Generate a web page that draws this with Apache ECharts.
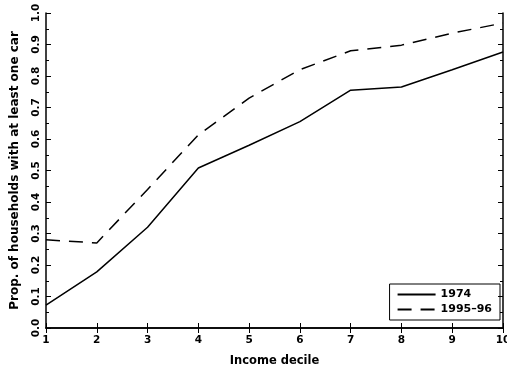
<!DOCTYPE html>
<html><head><meta charset="utf-8">
<script src="https://cdn.jsdelivr.net/npm/echarts@6/dist/echarts.min.js"></script>
<style>html,body{margin:0;padding:0;background:#fff}#c{width:507px;height:369px}</style>
</head><body><div id="c"></div>
<script>
var deciles = [1,2,3,4,5,6,7,8,9,10];
var y1974 = [0.073,0.178,0.32,0.508,0.58,0.655,0.755,0.765,0.82,0.876];
var y1995 = [0.28,0.27,0.44,0.613,0.73,0.82,0.88,0.898,0.936,0.968];
var seriesNames = ['1974','1995\u201396'];
var yTickLabels = ['0.0','0.1','0.2','0.3','0.4','0.5','0.6','0.7','0.8','0.9','1.0'];

function pairs(ys){ return deciles.map(function(d,i){ return [d, ys[i]]; }); }
var font = {fontFamily:'DejaVu Sans, sans-serif', fontWeight:'bold', fontSize:10.5, color:'#000'};
var chart = echarts.init(document.getElementById('c'));
chart.setOption({
  animation:false,
  backgroundColor:'#fff',
  grid:{left:46,right:4,top:13,bottom:41,containLabel:false,outerBoundsMode:'none'},
  legend:{
    orient:'vertical', right:7, bottom:49,
    borderColor:'#000', borderWidth:1, borderRadius:0,
    padding:[5,8,5,7], itemGap:4, itemWidth:38, itemHeight:10,
    itemStyle:{opacity:0},
    textStyle:Object.assign({}, font, {fontSize:11}),
    data:seriesNames
  },
  xAxis:[{
    type:'value', min:1, max:10, interval:1, position:'bottom',
    name:'Income decile', nameLocation:'middle', nameGap:27,
    nameTextStyle:Object.assign({}, font, {fontSize:11.5}),
    axisLine:{lineStyle:{color:'#000',width:1.5}},
    axisTick:{inside:true,length:5,lineStyle:{color:'#000'}},
    axisLabel:Object.assign({margin:7}, font),
    splitLine:{show:false}
  },{
    type:'value', min:1, max:10, interval:1, position:'top',
    axisLine:{show:true,lineStyle:{color:'#000',width:1.5}},
    axisTick:{inside:true,length:5,lineStyle:{color:'#000'}},
    axisLabel:{show:false}, splitLine:{show:false}
  }],
  yAxis:[{
    type:'value', min:0, max:1, interval:0.1, position:'left',
    name:'Prop. of households with at least one car', nameLocation:'middle', nameGap:25,
    nameTextStyle:Object.assign({}, font, {fontSize:12}),
    axisLine:{show:true,lineStyle:{color:'#000',width:1.5}},
    axisTick:{inside:true,length:5,lineStyle:{color:'#000'}},
    minorTick:{show:true,splitNumber:2,length:3,lineStyle:{color:'#000'}},
    axisLabel:Object.assign({margin:4, rotate:90, formatter:function(v){ return yTickLabels[Math.round(v*10)]; }}, font),
    splitLine:{show:false}
  },{
    type:'value', min:0, max:1, interval:0.1, position:'right',
    axisLine:{show:true,lineStyle:{color:'#000',width:1.5}},
    axisTick:{inside:true,length:5,lineStyle:{color:'#000'}},
    minorTick:{show:true,splitNumber:2,length:3,lineStyle:{color:'#000'}},
    axisLabel:{show:false}, splitLine:{show:false}
  }],
  series:[{
    name:seriesNames[0], type:'line', data:pairs(y1974), symbol:'none',
    lineStyle:{color:'#000',width:1.5,type:'solid'}, itemStyle:{color:'#000'}
  },{
    name:seriesNames[1], type:'line', data:pairs(y1995), symbol:'none',
    lineStyle:{color:'#000',width:1.5,type:[14,9]}, itemStyle:{color:'#000'}
  }]
});
</script></body></html>
